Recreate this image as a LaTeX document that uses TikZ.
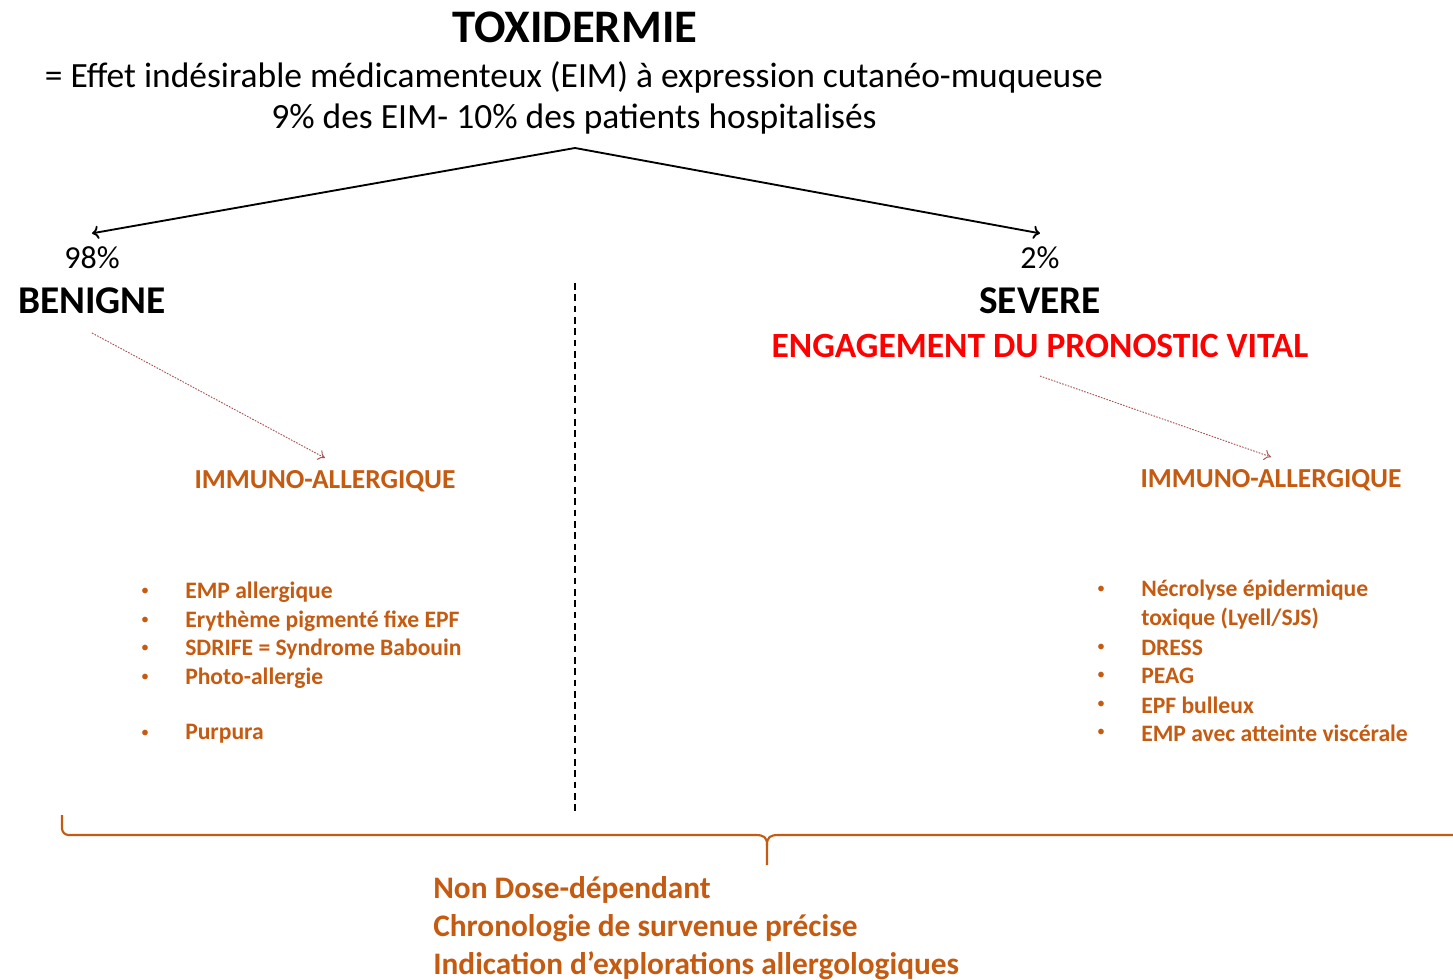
\documentclass[tikz,border=0pt]{standalone}
\usepackage{fontspec}
\setmainfont{Carlito}
\usetikzlibrary{arrows.meta}
\definecolor{orng}{HTML}{C55A11}
\definecolor{redv}{HTML}{FF0000}
\definecolor{dotc}{HTML}{A65353}
\begin{document}
\begin{tikzpicture}[x=0.75pt,y=-0.75pt,
  txt/.style={inner sep=0pt,text=black},
  listitem/.style={inner sep=0pt,anchor=west,text=orng,font=\bfseries\fontsize{17.7}{21}\selectfont},
  bottomitem/.style={inner sep=0pt,anchor=west,text=orng,font=\bfseries\fontsize{23.5}{28}\selectfont},
  bul/.style={inner sep=0pt,text=orng,font=\fontsize{12}{14}\selectfont},
  mainarrow/.style={draw=black,line width=1.4pt,-{To[length=5pt,width=10pt]}},
  subarrow/.style={draw=dotc,line width=0.7pt,dash pattern=on 1.2pt off 1pt,-{To[length=5pt,width=8pt]}},
  bracestyle/.style={draw=orng,line width=1.6pt},
  ]
\useasboundingbox (0,0) rectangle (1453,980);
% titles
\node[txt,font=\bfseries\fontsize{35}{40}\selectfont] (title) at (575,27) {TOXIDERMIE};
\node[txt,font=\fontsize{26.6}{31}\selectfont] (def) at (574,77) {= Effet indésirable médicamenteux (EIM) à expression cutanéo-muqueuse};
\node[txt,font=\fontsize{26.6}{31}\selectfont] (stat) at (574,119) {9\% des EIM- 10\% des patients hospitalisés};
\coordinate (apex) at (575,148);
% branches
\node[txt,font=\fontsize{24}{28}\selectfont] (p98) at (92,258) {98\%};
\node[txt,font=\bfseries\fontsize{29.5}{34}\selectfont] (benigne) at (92,301) {BENIGNE};
\node[txt,font=\fontsize{24}{28}\selectfont] (p2) at (1040,258) {2\%};
\node[txt,font=\bfseries\fontsize{29.5}{34}\selectfont] (severe) at (1040,301) {SEVERE};
\node[txt,text=redv,font=\bfseries\fontsize{26.6}{31}\selectfont] (vital) at (1040,346) {ENGAGEMENT DU PRONOSTIC VITAL};
\draw[mainarrow] (apex) -- ([yshift=10pt]p98.north);
\draw[mainarrow] (apex) -- ([yshift=10pt]p2.north);
% separator
\coordinate (sepTop) at (575,283);
\coordinate (sepBot) at (575,815);
\draw[black,line width=0.9pt,dash pattern=on 5pt off 3.5pt] (sepTop) -- (sepBot);
% immuno-allergique
\node[txt,text=orng,font=\bfseries\fontsize{20.6}{24}\selectfont] (iaL) at (325,481) {IMMUNO-ALLERGIQUE};
\node[txt,text=orng,font=\bfseries\fontsize{20.6}{24}\selectfont] (iaR) at (1271,480) {IMMUNO-ALLERGIQUE};
\coordinate (fromB) at (92,333);
\coordinate (fromS) at (1040,376);
\draw[subarrow] (fromB) -- ([yshift=9pt]iaL.north);
\draw[subarrow] (fromS) -- ([yshift=9pt]iaR.north);
% left list
\foreach \y/\t in {592/EMP allergique,621/Erythème pigmenté fixe EPF,649/SDRIFE = Syndrome Babouin,678/Photo-allergie,734/Purpura}{
  \node[bul] at (145,\y) {•};
  \node[listitem] at (185,\y) {\t};
}
% right list
\foreach \y/\t in {590/Nécrolyse épidermique,648/DRESS,676/PEAG,705/EPF bulleux,733/EMP avec atteinte viscérale}{
  \node[bul] at (1101,\y) {•};
  \node[listitem] at (1141,\y) {\t};
}
\node[listitem] at (1141,619) {toxique (Lyell/SJS)};
% brace
\coordinate (brL) at (62,815);
\coordinate (brM) at (767,865);
\draw[bracestyle,rounded corners=5pt] (brL) -- (62,835) -- (755,835);
\draw[bracestyle] (755,835) .. controls (764,835) and (767,837) .. (767,845) -- (brM);
\draw[bracestyle] (1470,835) -- (779,835) .. controls (770,835) and (767,837) .. (767,845);
% bottom
\node[bottomitem] (b1) at (433,890) {Non Dose-dépendant};
\node[bottomitem] (b2) at (433,928) {Chronologie de survenue précise};
\node[bottomitem] (b3) at (433,966) {Indication d’explorations allergologiques};
\end{tikzpicture}
\end{document}
